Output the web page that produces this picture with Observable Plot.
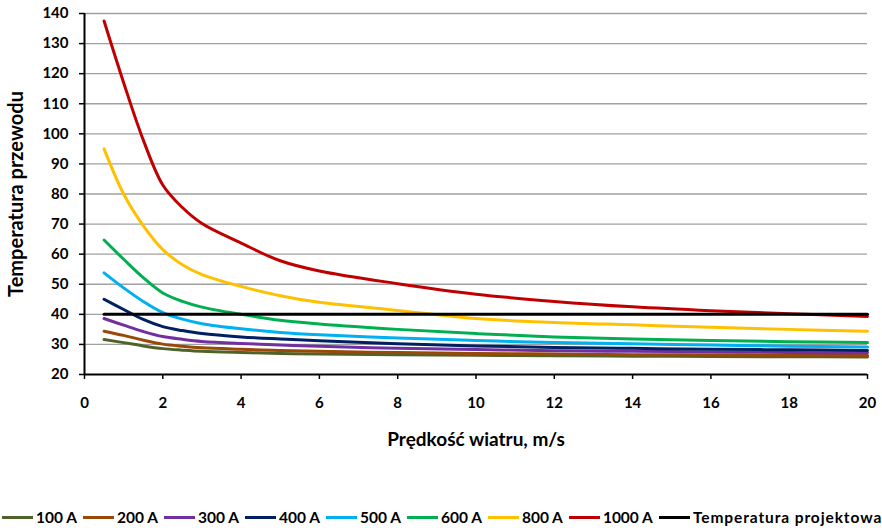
<!DOCTYPE html>
<html>
<head>
<meta charset="utf-8">
<script src="https://cdn.jsdelivr.net/npm/d3@7"></script>
<script src="https://cdn.jsdelivr.net/npm/@observablehq/plot@0.6"></script>
<style>
  html, body { margin: 0; padding: 0; background: #fff; }
  body { width: 882px; height: 528px; overflow: hidden; font-family: Lato, "Open Sans", sans-serif; }
  #legend { display: flex; align-items: center; height: 24px; margin-top: 16px; padding-left: 2px;
            font-family: Lato, sans-serif; font-weight: bold; font-size: 15.5px; color: #000; white-space: nowrap; }
  .item { display: flex; align-items: center; margin-right: 6px; }
  .sw { width: 31px; height: 3px; margin-right: 3px; }
  .wide { letter-spacing: 0.9px; }
</style>
</head>
<body>
<div id="chart"></div>
<div id="legend"></div>
<script>
const windSpeed = [0.5, 1, 1.5, 2, 2.5, 3, 4, 5, 6, 8, 10, 12, 14, 16, 18, 20];
const seriesNames = ["100 A", "200 A", "300 A", "400 A", "500 A", "600 A", "800 A", "1000 A"];
const temp100  = [31.6, 30.6, 29.5, 28.6, 28.1, 27.7, 27.3, 27.0, 26.8, 26.6, 26.4, 26.2, 26.1, 26.0, 25.9, 25.8];
const temp200  = [34.4, 33.0, 31.4, 30.1, 29.4, 28.9, 28.4, 28.0, 27.7, 27.3, 27.0, 26.8, 26.6, 26.5, 26.4, 26.3];
const temp300  = [38.6, 36.4, 34.3, 32.6, 31.7, 31.0, 30.3, 29.8, 29.4, 28.7, 28.3, 27.9, 27.7, 27.5, 27.3, 27.2];
const temp400  = [45.0, 41.6, 38.3, 35.9, 34.6, 33.6, 32.5, 31.8, 31.2, 30.2, 29.5, 29.0, 28.7, 28.4, 28.2, 28.0];
const temp500  = [53.8, 48.8, 44.3, 40.6, 38.4, 36.9, 35.2, 34.0, 33.2, 32.1, 31.3, 30.6, 30.2, 29.8, 29.4, 29.1];
const temp600  = [64.7, 58.3, 52.2, 47.1, 44.3, 42.4, 40.0, 38.0, 36.8, 35.0, 33.6, 32.5, 31.8, 31.3, 30.9, 30.6];
const temp800  = [95.0, 80.0, 69.5, 61.5, 56.5, 53.2, 49.3, 46.2, 44.0, 41.3, 38.6, 37.3, 36.5, 35.7, 35.0, 34.4];
const temp1000 = [137.5, 117.0, 98.0, 83.0, 75.5, 70.2, 63.7, 57.8, 54.4, 50.2, 46.7, 44.3, 42.5, 41.2, 40.2, 39.3];
const designName = "Temperatura projektowa";
const designX = [0.5, 20];
const designTemp = [40, 40];
const seriesColors = ["#4F6228", "#984807", "#7030A0", "#002060", "#00B0F0", "#00B050", "#FFC000", "#C00000"];
const designColor = "#000000";
const xTicks = [0, 2, 4, 6, 8, 10, 12, 14, 16, 18, 20];
const yTicks = [20, 30, 40, 50, 60, 70, 80, 90, 100, 110, 120, 130, 140];
const xTitle = "Prędkość wiatru, m/s";
const yTitle = "Temperatura przewodu";

const allSeries = [temp100, temp200, temp300, temp400, temp500, temp600, temp800, temp1000];
const rows = [];
allSeries.forEach((vals, i) => vals.forEach((v, j) => rows.push({series: seriesNames[i], x: windSpeed[j], y: v})));
const designRows = designX.map((x, j) => ({x, y: designTemp[j]}));

const chart = Plot.plot({
  width: 882,
  height: 489,
  marginLeft: 84,
  marginRight: 15,
  marginTop: 13,
  marginBottom: 115,
  style: {fontFamily: "Lato, sans-serif", fontWeight: "bold", fontSize: "15px", color: "#000", background: "#fff"},
  x: {domain: [0, 20], ticks: xTicks},
  y: {domain: [20, 140], ticks: yTicks},
  color: {domain: seriesNames, range: seriesColors},
  marks: [
    Plot.gridY(yTicks.slice(1), {stroke: "#a0a0a0", strokeOpacity: 1, strokeWidth: 1.3}),
    Plot.axisY({ticks: yTicks, tickSize: 5, tickPadding: 11, label: null, fontWeight: "bold", strokeWidth: 1.5}),
    Plot.axisX({ticks: xTicks, tickSize: 5, tickPadding: 18, label: null, fontWeight: "bold", strokeWidth: 1.5}),
    Plot.ruleY([20], {stroke: "#000", strokeWidth: 2}),
    Plot.ruleX([0], {stroke: "#000", strokeWidth: 2}),
    Plot.line(rows, {x: "x", y: "y", z: "series", stroke: "series", strokeWidth: 3, curve: "catmull-rom"}),
    Plot.line(designRows, {x: "x", y: "y", stroke: designColor, strokeWidth: 3}),
    Plot.text([xTitle], {frameAnchor: "bottom", dy: 71, fontSize: 19, fontWeight: "bold", fill: "#000"}),
    Plot.text([yTitle], {frameAnchor: "left", textAnchor: "middle", dx: -68, rotate: -90, fontSize: 20, fontWeight: "bold", fill: "#000"})
  ]
});
document.getElementById("chart").appendChild(chart);

const legend = document.getElementById("legend");
const legendNames = seriesNames.concat([designName]);
const legendColors = seriesColors.concat([designColor]);
legendNames.forEach((n, i) => {
  const it = document.createElement("div");
  it.className = "item";
  const sw = document.createElement("div");
  sw.className = "sw";
  sw.style.background = legendColors[i];
  const tx = document.createElement("span");
  tx.textContent = n;
  if (n === designName) tx.className = "wide";
  it.appendChild(sw); it.appendChild(tx);
  legend.appendChild(it);
});
</script>
</body>
</html>
